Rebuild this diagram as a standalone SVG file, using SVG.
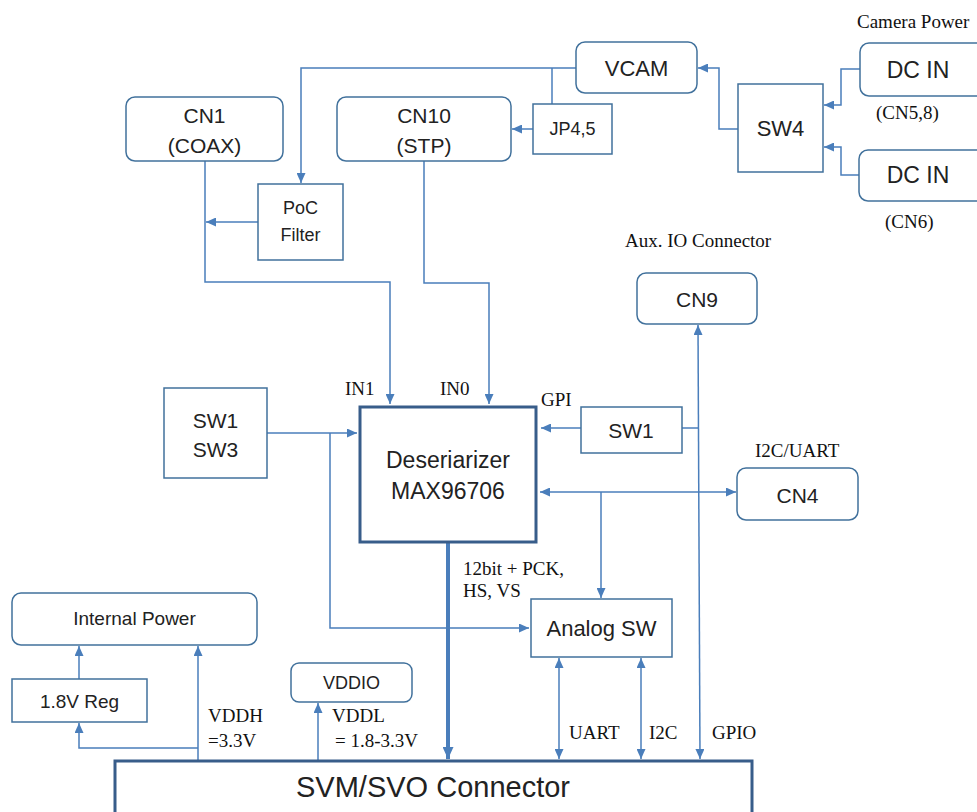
<svg xmlns="http://www.w3.org/2000/svg" width="977" height="812" viewBox="0 0 977 812">
<style>
.bx{fill:#fff;stroke:#41719c;stroke-width:1.5}
.tk{fill:#fff;stroke:#385d8a;stroke-width:3}
.ln{fill:none;stroke:#4a7ebb;stroke-width:1.5}
.s{font-family:"Liberation Sans",Arial,sans-serif;fill:#222;text-anchor:middle;dominant-baseline:central}
.r{font-family:"Liberation Serif","Times New Roman",serif;fill:#111;font-size:19px}
</style>
<defs>
<marker id="a" markerUnits="userSpaceOnUse" markerWidth="10" markerHeight="9" refX="10" refY="4.5" orient="auto-start-reverse" viewBox="0 0 10 9"><path d="M0,0 L10,4.5 L0,9 z" fill="#4a7ebb"/></marker>
<marker id="b" markerUnits="userSpaceOnUse" markerWidth="12" markerHeight="11" refX="12" refY="5.5" orient="auto" viewBox="0 0 12 11"><path d="M0,0 L12,5.5 L0,11 z" fill="#4a7ebb"/></marker>
</defs>
<rect width="977" height="812" fill="#fff"/>

<g id="connectors">
<path class="ln" d="M860,69 H841 V105 H824" marker-end="url(#a)"/>
<path class="ln" d="M859,175 H841 V147 H824" marker-end="url(#a)"/>
<path class="ln" d="M738,129 H719 V68 H698" marker-end="url(#a)"/>
<path class="ln" d="M576,68 H301 V183" marker-end="url(#a)"/>
<path class="ln" d="M552,68 V104"/>
<path class="ln" d="M533,129 H512" marker-end="url(#a)"/>
<path class="ln" d="M258,222 H206" marker-end="url(#a)"/>
<path class="ln" d="M205,161 V282 H390 V404" marker-end="url(#a)"/>
<path class="ln" d="M424,161 V283 H489 V404" marker-end="url(#a)"/>
<path class="ln" d="M267,433 H357" marker-end="url(#a)"/>
<path class="ln" d="M330,433 V628 H529" marker-end="url(#a)"/>
<path class="ln" d="M581,428 H541" marker-end="url(#a)"/>
<path class="ln" d="M682,428 H698"/>
<path class="ln" d="M698,325 L700,759" marker-start="url(#a)" marker-end="url(#a)"/>
<path class="ln" d="M540,492 H736" marker-start="url(#a)" marker-end="url(#a)"/>
<path class="ln" d="M601,492 V598" marker-end="url(#a)"/>
<path class="ln" d="M559,658 V759" marker-start="url(#a)" marker-end="url(#a)"/>
<path class="ln" d="M641,658 V759" marker-start="url(#a)" marker-end="url(#a)"/>
<path d="M448,543 V759" fill="none" stroke="#4a7ebb" stroke-width="4" marker-end="url(#b)"/>
<path class="ln" d="M198,760 V646" marker-end="url(#a)"/>
<path class="ln" d="M198,748 H79 V723" marker-end="url(#a)"/>
<path class="ln" d="M79,679 V646" marker-end="url(#a)"/>
<path class="ln" d="M318,760 V703" marker-end="url(#a)"/>
</g>

<g id="vcam"><rect class="bx" x="576" y="42" width="121" height="51" rx="9"/><text class="s" x="636.5" y="68" font-size="22">VCAM</text></g>
<g id="jp45"><rect class="bx" x="533" y="104" width="79" height="50"/><text class="s" x="572.5" y="129" font-size="18">JP4,5</text></g>
<g id="sw4"><rect class="bx" x="738" y="84" width="85" height="88"/><text class="s" x="780.5" y="128" font-size="22">SW4</text></g>
<g id="dcin1"><rect class="bx" x="860" y="43" width="130" height="53" rx="9"/><text class="s" x="918" y="70" font-size="23">DC IN</text></g>
<g id="dcin2"><rect class="bx" x="859" y="150" width="130" height="51" rx="9"/><text class="s" x="918" y="175" font-size="23">DC IN</text></g>
<g id="cn1"><rect class="bx" x="126" y="97" width="157" height="64" rx="9"/><text class="s" x="204.5" y="115" font-size="21">CN1</text><text class="s" x="204.5" y="145" font-size="21">(COAX)</text></g>
<g id="cn10"><rect class="bx" x="337" y="97" width="174" height="64" rx="9"/><text class="s" x="424" y="115" font-size="21">CN10</text><text class="s" x="424" y="145" font-size="21">(STP)</text></g>
<g id="poc"><rect class="bx" x="258" y="184" width="85" height="76"/><text class="s" x="300.5" y="208" font-size="18">PoC</text><text class="s" x="300.5" y="235" font-size="18">Filter</text></g>
<g id="cn9"><rect class="bx" x="637" y="273" width="120" height="51" rx="9"/><text class="s" x="697" y="299" font-size="21">CN9</text></g>
<g id="sw13"><rect class="bx" x="164" y="388" width="103" height="90"/><text class="s" x="215.5" y="420" font-size="21">SW1</text><text class="s" x="215.5" y="449" font-size="21">SW3</text></g>
<g id="deser"><rect class="tk" x="360" y="407" width="176" height="135"/><text class="s" x="448" y="460" font-size="23">Deseriarizer</text><text class="s" x="448" y="491" font-size="23">MAX96706</text></g>
<g id="sw1"><rect class="bx" x="581" y="407" width="101" height="46"/><text class="s" x="631" y="430" font-size="21">SW1</text></g>
<g id="cn4"><rect class="bx" x="737" y="468" width="121" height="52" rx="9"/><text class="s" x="797.5" y="495" font-size="21">CN4</text></g>
<g id="analogsw"><rect class="bx" x="531" y="599" width="141" height="58"/><text class="s" x="601.5" y="628" font-size="22">Analog SW</text></g>
<g id="intpower"><rect class="bx" x="12" y="593" width="245" height="52" rx="9"/><text class="s" x="134.5" y="618" font-size="19">Internal Power</text></g>
<g id="reg18"><rect class="bx" x="12" y="679" width="135" height="43"/><text class="s" x="79.5" y="701" font-size="19">1.8V Reg</text></g>
<g id="vddio"><rect class="bx" x="291" y="663" width="121" height="39" rx="8"/><text class="s" x="351.5" y="683" font-size="18">VDDIO</text></g>
<g id="svm"><rect class="tk" x="115" y="761" width="637" height="60"/><text class="s" x="433" y="787" font-size="29">SVM/SVO Connector</text></g>

<g id="labels">
<text class="r" x="857" y="28">Camera Power</text>
<text class="r" x="876" y="119">(CN5,8)</text>
<text class="r" x="885" y="228">(CN6)</text>
<text class="r" x="625" y="247">Aux. IO Connector</text>
<text class="r" x="345" y="395">IN1</text>
<text class="r" x="440" y="395">IN0</text>
<text class="r" x="541" y="406">GPI</text>
<text class="r" x="755" y="457">I2C/UART</text>
<text class="r" x="463" y="575">12bit + PCK,</text>
<text class="r" x="463" y="597">HS, VS</text>
<text class="r" x="569" y="739">UART</text>
<text class="r" x="649" y="739">I2C</text>
<text class="r" x="712" y="739">GPIO</text>
<text class="r" x="208" y="722">VDDH</text>
<text class="r" x="208" y="747">=3.3V</text>
<text class="r" x="332" y="722">VDDL</text>
<text class="r" x="335" y="747">= 1.8-3.3V</text>
</g>
</svg>
